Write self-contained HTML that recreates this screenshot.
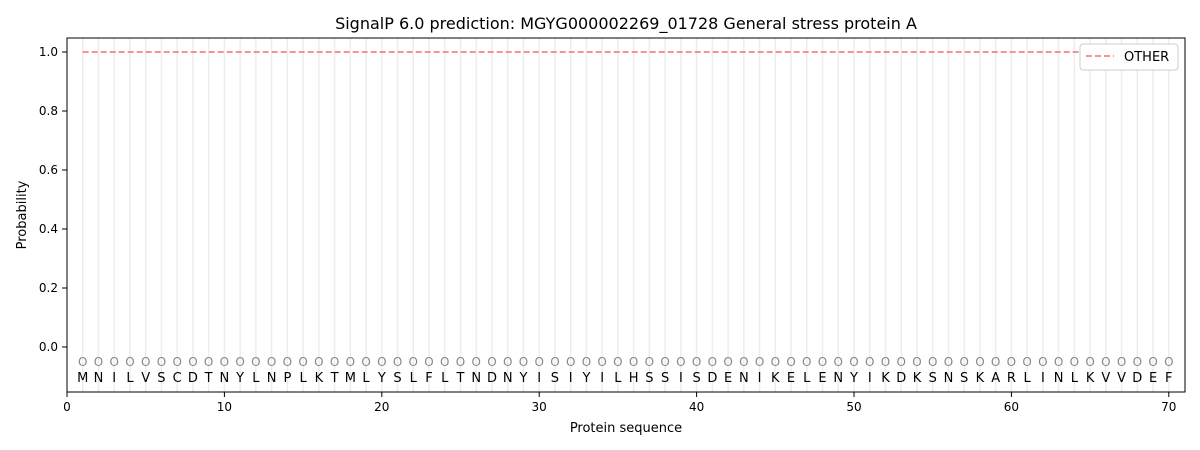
<!DOCTYPE html>
<html><head><meta charset="utf-8"><style>body{margin:0;background:#fff}svg{display:block;font-family:"DejaVu Sans","Liberation Sans",sans-serif}</style></head><body>
<svg width="1200" height="450" xmlns="http://www.w3.org/2000/svg">
<rect width="1200" height="450" fill="#fff"/>
<g id="grid" stroke="#ededed" stroke-width="1.5"></g>
<text x="626" y="29" font-size="16" text-anchor="middle">SignalP 6.0 prediction: MGYG000002269_01728 General stress protein A</text>
<line x1="82.7" y1="52" x2="1169" y2="52" stroke="#f07070" stroke-width="1.5" stroke-dasharray="6,3"/>
<g id="os" font-size="12" fill="#888" text-anchor="middle"></g>
<g id="seq" font-size="13" text-anchor="middle"></g>
<rect x="67" y="38" width="1118" height="354" fill="none" stroke="#000" stroke-width="1"/>
<g id="xt" font-size="12" text-anchor="middle"></g>
<g font-size="12" text-anchor="end">
<line x1="62" y1="52" x2="67" y2="52" stroke="#000"/><text x="58" y="56">1.0</text>
<line x1="62" y1="111" x2="67" y2="111" stroke="#000"/><text x="58" y="115">0.8</text>
<line x1="62" y1="170" x2="67" y2="170" stroke="#000"/><text x="58" y="174">0.6</text>
<line x1="62" y1="229" x2="67" y2="229" stroke="#000"/><text x="58" y="233">0.4</text>
<line x1="62" y1="288" x2="67" y2="288" stroke="#000"/><text x="58" y="292">0.2</text>
<line x1="62" y1="347" x2="67" y2="347" stroke="#000"/><text x="58" y="351">0.0</text>
</g>
<text x="26" y="215" font-size="13" text-anchor="middle" transform="rotate(-90 26 215)">Probability</text>
<text x="626" y="432" font-size="13" text-anchor="middle">Protein sequence</text>
<rect x="1080" y="44" width="98" height="26" rx="3" fill="#fff" stroke="#ccc"/>
<line x1="1086" y1="56" x2="1114" y2="56" stroke="#f07070" stroke-width="1.5" stroke-dasharray="6,3"/>
<text x="1124" y="61" font-size="13">OTHER</text>
</svg>
<script>
var s="MNILVSCDTNYLNPLKTMLYSLFLTNDNYISIYILHSSISDENIKELENYIKDKSNSKARLINLKVVDEF";
var ns="http://www.w3.org/2000/svg";
function X(i){return 67+i*15.74;}
function el(p,t,a,txt){var e=document.createElementNS(ns,t);for(var k in a)e.setAttribute(k,a[k]);if(txt!=null)e.textContent=txt;document.getElementById(p).appendChild(e);}
for(var i=1;i<=70;i++){
el("grid","line",{x1:X(i),y1:38,x2:X(i),y2:392});
el("os","text",{x:X(i),y:366},"O");
el("seq","text",{x:X(i),y:382},s[i-1]);
}
for(var t=0;t<=70;t+=10){
el("xt","line",{x1:X(t),y1:392,x2:X(t),y2:397,stroke:"#000"});
el("xt","text",{x:X(t),y:411},String(t));
}
</script>
</body></html>
